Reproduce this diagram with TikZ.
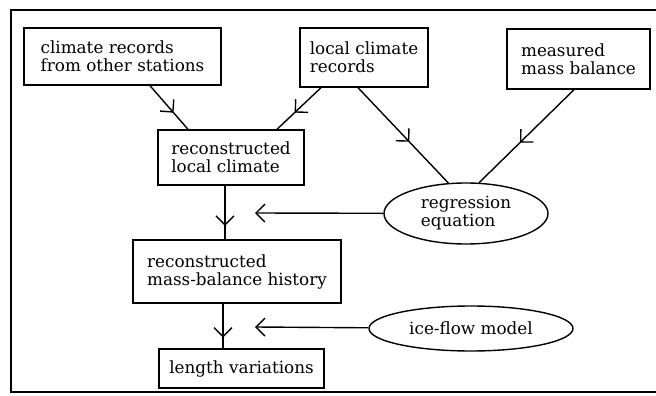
\documentclass[tikz,border=0pt]{standalone}
\usepackage{fontspec}
\setmainfont{DejaVu Serif}
\usetikzlibrary{shapes.geometric,arrows.meta,decorations.markings}

\begin{document}
\begin{tikzpicture}[
  x=1pt, y=-1pt,
  line width=1.4pt,
  barb/.tip={Straight Barb[length=9pt,width=18pt]},
  midtip/.style={
    decoration={markings, mark=at position #1 with {\arrow{barb}}},
    postaction={decorate},
  },
  ]
  \useasboundingbox (0,0) rectangle (656,396);
  % frame, open on the right
  \draw[line width=1.1pt] (656,10) -- (11,10) -- (11,392) -- (656,392);
  \begin{scope}[
    every node/.style={
      draw,
      align=left,
      font=\fontsize{16.8}{18}\selectfont,
    },
    ]
    \node[minimum width=197, minimum height=57] (others) at (122.5,56.5) {climate records\\from other stations};
    \node[minimum width=128, minimum height=59] (local)  at (364,57.5)   {local climate\\records};
    \node[minimum width=143, minimum height=60] (meas)   at (578.5,59)   {measured\\mass balance};
    \node[minimum width=146, minimum height=55] (rclim)  at (231,157.5)  {reconstructed\\local climate};
    \node[minimum width=208, minimum height=63] (rmb)    at (237,271.5)  {reconstructed\\mass-balance history};
    \node[minimum width=165, minimum height=39] (len)    at (241.5,368.5) {length variations};
  \end{scope}
  \begin{scope}[
    every node/.style={
      draw,
      ellipse,
      inner sep=0pt,
      align=left,
      font=\fontsize{16.8}{18}\selectfont,
    },
    ]
    \node[minimum width=164, minimum height=61] (regr) at (466,213.5) {regression\\equation};
    \node[minimum width=204, minimum height=45] (ice)  at (471,328.5) {ice-flow model};
  \end{scope}
  \coordinate (regtip) at (255,213);
  \coordinate (icetip) at (255,327);
  \path
  ([xshift=27.5pt]others.south) edge[midtip=0.62] ([xshift=-43pt]rclim.north)
  ([xshift=-43pt]local.south)   edge[midtip=0.6]  ([xshift=46pt]rclim.north)
  ([xshift=-6pt]local.south)    edge[midtip=0.57] (regr.120)
  ([xshift=-4.5pt]meas.south)   edge[midtip=0.57] (regr.67)
  ([xshift=-6pt]rclim.south)    edge[midtip=0.75] ([xshift=-12pt]rmb.north)
  ([xshift=-14pt]rmb.south)     edge[midtip=0.76] ([xshift=-18.5pt]len.north)
  (regr) edge[-barb] (regtip)
  (ice)  edge[-barb] (icetip);
\end{tikzpicture}
\end{document}
